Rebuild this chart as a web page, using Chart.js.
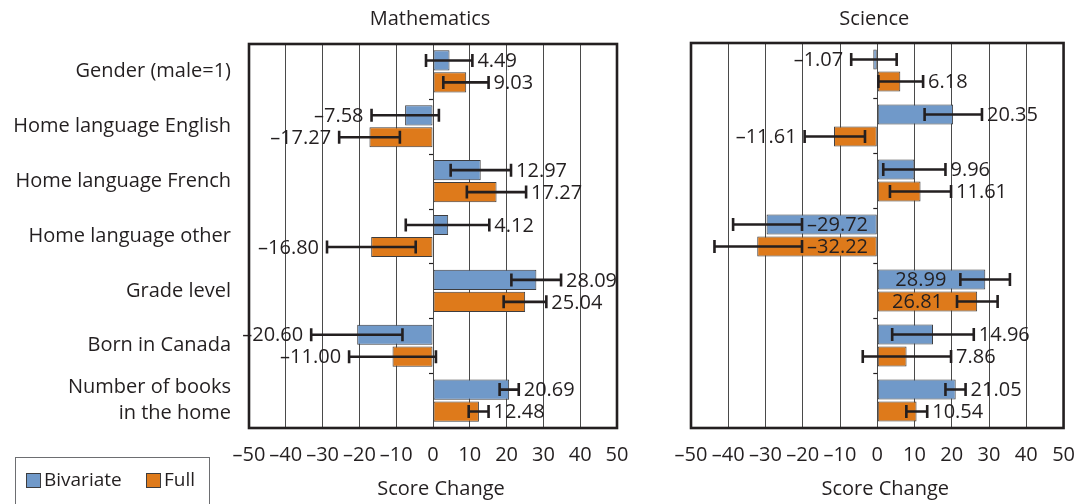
<!DOCTYPE html>
<html>
<head>
<meta charset="utf-8">
<title>Score change by background factor</title>
<script src="https://cdn.jsdelivr.net/npm/chart.js@4.4.0/dist/chart.umd.min.js"></script>
<style>
  body { margin: 0; background: #fff; }
  #wrap { position: relative; width: 1090px; height: 504px; overflow: hidden; }
  canvas { position: absolute; top: 0; }
  #mathChart { left: 0; }
  #sciChart { left: 650px; }
</style>
</head>
<body>
<div id="wrap">
  <canvas id="mathChart" width="650" height="504"></canvas>
  <canvas id="sciChart" width="440" height="504"></canvas>
</div>
<script>
// Predictors (top to bottom)
const categories = [
  'Gender (male=1)',
  'Home language English',
  'Home language French',
  'Home language other',
  'Grade level',
  'Born in Canada',
  ['Number of books', 'in the home']
];
const scoreTicks = [-50, -40, -30, -20, -10, 0, 10, 20, 30, 40, 50];

// Mathematics
const mathBivariate = [4.49, -7.58, 12.97, 4.12, 28.09, -20.60, 20.69];
const mathBivariateLow = [-1.9, -16.7, 4.8, -7.4, 21.3, -33.1, 18.1];
const mathBivariateHigh = [10.7, 1.6, 21.2, 15.3, 34.8, -8.3, 23.3];
const mathFull = [9.03, -17.27, 17.27, -16.80, 25.04, -11.00, 12.48];
const mathFullLow = [2.8, -25.5, 9.2, -28.8, 19.2, -22.8, 9.7];
const mathFullHigh = [15.1, -9.0, 25.3, -4.7, 30.8, 0.8, 15.1];

// Science
const sciBivariate = [-1.07, 20.35, 9.96, -29.72, 28.99, 14.96, 21.05];
const sciBivariateLow = [-7.0, 12.7, 1.6, -38.7, 22.3, 4.0, 18.3];
const sciBivariateHigh = [5.2, 28.1, 18.3, -20.2, 35.6, 25.9, 23.7];
const sciFull = [6.18, -11.61, 11.61, -32.22, 26.81, 7.86, 10.54];
const sciFullLow = [0.3, -19.5, 3.4, -43.7, 21.4, -3.9, 7.8];
const sciFullHigh = [12.3, -3.3, 19.8, -20.2, 32.3, 19.8, 13.4];

const TEXT = '#231f20';
const FONT = "'Open Sans', sans-serif";
const BLUE = '#7099c9';
const ORANGE = '#de7a1b';

Chart.defaults.font.family = FONT;
Chart.defaults.color = TEXT;

function fmt(v) {
  const s = Math.abs(v).toFixed(2);
  return v < 0 ? '\u2013' + s : s;
}

// error bars, value labels, frame, titles and legend
const panelPlugin = {
  id: 'panel',
  afterDatasetsDraw(chart, args, opts) {
    const { ctx, scales: { x, y } } = chart;
    ctx.save();

    // short ticks on the zero line between categories
    const x0 = x.getPixelForValue(0);
    ctx.strokeStyle = TEXT;
    ctx.lineWidth = 1.2;
    for (let i = 0; i < chart.data.labels.length - 1; i++) {
      const yy = Math.round((y.getPixelForValue(i) + y.getPixelForValue(i + 1)) / 2) + 0.5;
      ctx.beginPath();
      ctx.moveTo(x0 - 4, yy);
      ctx.lineTo(x0, yy);
      ctx.stroke();
    }

    const inside = opts.insideLabels || [];
    chart.data.datasets.forEach((ds, di) => {
      const meta = chart.getDatasetMeta(di);
      meta.data.forEach((bar, i) => {
        const lo = x.getPixelForValue(ds.errLow[i]);
        const hi = x.getPixelForValue(ds.errHigh[i]);
        const cy = bar.y;

        ctx.strokeStyle = TEXT;
        ctx.lineWidth = 2.6;
        ctx.beginPath();
        ctx.moveTo(lo, cy);
        ctx.lineTo(hi, cy);
        ctx.moveTo(lo, cy - 6.5);
        ctx.lineTo(lo, cy + 6.5);
        ctx.moveTo(hi, cy - 6.5);
        ctx.lineTo(hi, cy + 6.5);
        ctx.stroke();

        const v = ds.data[i];
        const inBar = inside.includes(i);
        let tx;
        if (!inBar && v >= 0) { ctx.textAlign = 'left'; tx = hi + 5; }
        else if (!inBar) { ctx.textAlign = 'right'; tx = lo - 8; }
        else if (v < 0) { ctx.textAlign = 'left'; tx = hi + 5; }
        else { ctx.textAlign = 'right'; tx = lo - 14; }
        ctx.font = '20px ' + FONT;
        ctx.fillStyle = TEXT;
        ctx.textBaseline = 'middle';
        ctx.fillText(fmt(v), tx, cy + 1);
      });
    });
    ctx.restore();
  },
  afterDraw(chart, args, opts) {
    const { ctx, chartArea: a } = chart;
    ctx.save();

    // heavy frame round the plot
    ctx.strokeStyle = TEXT;
    ctx.lineWidth = 2.6;
    ctx.strokeRect(a.left, a.top, a.right - a.left, a.bottom - a.top);

    const cx = (a.left + a.right) / 2;
    ctx.fillStyle = TEXT;
    ctx.font = '20px ' + FONT;
    ctx.textAlign = 'center';
    ctx.textBaseline = 'middle';
    ctx.fillText(opts.title, cx - 3, 19);
    ctx.fillText('Score Change', cx + 8, 489);

    if (opts.legend) {
      ctx.font = '19px ' + FONT;
      ctx.strokeStyle = '#6d6e71';
      ctx.lineWidth = 1;
      ctx.strokeRect(15.5, 457.5, 194, 60);
      const slots = [26, 146];
      chart.data.datasets.forEach((ds, i) => {
        const lx = slots[i];
        ctx.fillStyle = ds.backgroundColor;
        ctx.fillRect(lx, 473, 15, 15);
        ctx.strokeStyle = ds.borderColor;
        ctx.strokeRect(lx + 0.5, 473.5, 14, 14);
        ctx.fillStyle = TEXT;
        ctx.textAlign = 'left';
        ctx.fillText(ds.label, lx + 18, 481);
      });
    }
    ctx.restore();
  }
};

function makePanel(canvasId, title, bivariate, bLow, bHigh, full, fLow, fHigh, extra) {
  return new Chart(document.getElementById(canvasId), {
    type: 'bar',
    data: {
      labels: categories,
      datasets: [
        {
          label: 'Bivariate',
          data: bivariate,
          errLow: bLow,
          errHigh: bHigh,
          backgroundColor: BLUE,
          borderColor: '#3d3d3f',
          borderWidth: 1,
          borderSkipped: false,
          categoryPercentage: 0.8,
          barPercentage: 0.92
        },
        {
          label: 'Full',
          data: full,
          errLow: fLow,
          errHigh: fHigh,
          backgroundColor: ORANGE,
          borderColor: '#3d3d3f',
          borderWidth: 1,
          borderSkipped: false,
          categoryPercentage: 0.8,
          barPercentage: 0.92
        }
      ]
    },
    options: {
      indexAxis: 'y',
      responsive: false,
      animation: false,
      layout: { padding: extra.padding },
      plugins: {
        legend: { display: false },
        tooltip: { enabled: false },
        panel: { title: title, legend: extra.legend, insideLabels: extra.insideLabels }
      },
      scales: {
        x: {
          min: -50,
          max: 50,
          afterBuildTicks: s => { s.ticks = scoreTicks.map(v => ({ value: v })); },
          afterFit: s => { s.height = 76; },
          grid: { color: '#4a4a4a', lineWidth: 1, drawTicks: false },
          border: { display: false },
          ticks: {
            padding: 15,
            maxRotation: 0,
            autoSkip: false,
            font: { size: 20 },
            color: TEXT,
            callback: v => (v < 0 ? '\u2013' + (-v) : String(v))
          }
        },
        y: {
          display: extra.showCategories,
          afterFit: s => { s.width = extra.axisWidth; },
          grid: { display: false, drawTicks: false },
          border: { display: false },
          ticks: {
            padding: 18,
            autoSkip: false,
            font: { size: 20, lineHeight: 1.3 },
            color: TEXT
          }
        }
      }
    },
    plugins: [panelPlugin]
  });
}

makePanel('mathChart', 'Mathematics',
  mathBivariate, mathBivariateLow, mathBivariateHigh,
  mathFull, mathFullLow, mathFullHigh,
  { padding: { top: 43, right: 33, left: 0, bottom: 0 }, showCategories: true, axisWidth: 249, legend: true, insideLabels: [] });

makePanel('sciChart', 'Science',
  sciBivariate, sciBivariateLow, sciBivariateHigh,
  sciFull, sciFullLow, sciFullHigh,
  { padding: { top: 43, right: 25, left: 41, bottom: 0 }, showCategories: false, axisWidth: 0, legend: false, insideLabels: [3, 4] });
</script>
</body>
</html>
